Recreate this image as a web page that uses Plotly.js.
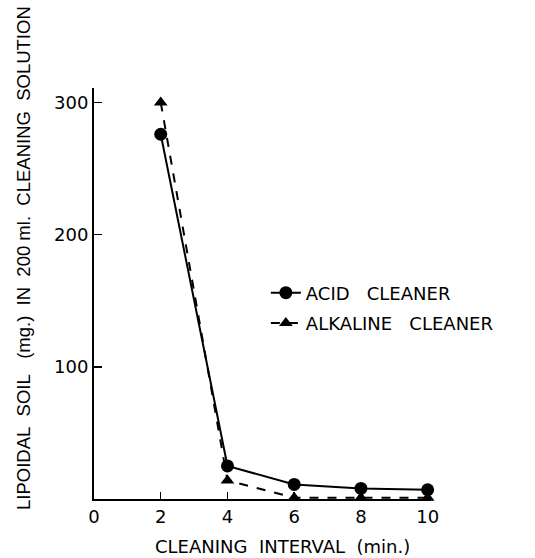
<!DOCTYPE html>
<html>
<head>
<meta charset="utf-8">
<script src="https://cdn.plot.ly/plotly-3.0.1.min.js"></script>
<style>html,body{margin:0;padding:0;background:#fff;}#chart{width:535px;height:558px;}</style>
</head>
<body>
<div id="chart"></div>
<script>
const intervals = [2, 4, 6, 8, 10];
const acidCleaner = [276, 25, 11, 8, 7];
const alkalineCleaner = [300, 14, 1, 1, 1];
const xTickVals = [0, 2, 4, 6, 8, 10];
const xTickText = ["0", "2", "4", "6", "8", "10"];
const yTickVals = [100, 200, 300];
const yTickText = ["100", "200", "300"];

const fontFam = "DejaVu Sans, Arial, sans-serif";

const traces = [
  {
    x: intervals, y: acidCleaner, name: "ACID&nbsp;&nbsp;&nbsp;CLEANER",
    type: "scatter", mode: "lines+markers", legendgroup: "a",
    line: {color: "#000", width: 2, dash: "solid"},
    marker: {symbol: "circle", size: 13, color: "#000"},
    cliponaxis: false
  },
  {
    x: intervals, y: alkalineCleaner, name: "ALKALINE&nbsp;&nbsp;&nbsp;CLEANER",
    type: "scatter", mode: "lines+markers", legendgroup: "b",
    line: {color: "#000", width: 2, dash: "dash"},
    marker: {symbol: "triangle-up", size: 12, color: "#000"},
    cliponaxis: false
  }
];

const layout = {
  width: 535, height: 558,
  margin: {l: 94, r: 104, t: 88, b: 59},
  paper_bgcolor: "#fff", plot_bgcolor: "#fff",
  font: {family: fontFam, color: "#000", size: 16},
  showlegend: true,
  legend: {
    x: 0.51, y: (499 - 308) / 411, xanchor: "left", yanchor: "middle",
    font: {family: fontFam, size: 18, color: "#000"},
    bgcolor: "rgba(0,0,0,0)", tracegroupgap: 4, traceorder: "grouped", itemwidth: 30
  },
  xaxis: {
    range: [0, 10.1], showline: true, linecolor: "#000", linewidth: 2,
    ticks: "inside", ticklen: 7, tickwidth: 1.5, tickcolor: "#000",
    tickmode: "array", tickvals: xTickVals, ticktext: xTickText,
    tickfont: {family: fontFam, size: 18, color: "#000"},
    showgrid: false, zeroline: false, mirror: false
  },
  yaxis: {
    range: [0, 311], showline: true, linecolor: "#000", linewidth: 2,
    ticks: "inside", ticklen: 8, tickwidth: 1.5, tickcolor: "#000",
    tickmode: "array", tickvals: yTickVals, ticktext: yTickText,
    tickfont: {family: fontFam, size: 18, color: "#000"},
    showgrid: false, zeroline: false
  },
  annotations: [
    {
      text: "CLEANING&nbsp;&nbsp;INTERVAL&nbsp;&nbsp;(min.)",
      xref: "paper", yref: "paper", x: (282 - 94) / 337, y: (499 - 546) / 411,
      xanchor: "center", yanchor: "middle", showarrow: false,
      font: {family: fontFam, size: 18, color: "#000"}
    },
    {
      text: "LIPOIDAL&nbsp;&nbsp;SOIL&nbsp;&nbsp;&nbsp;(mg.)&nbsp;&nbsp;IN&nbsp;&nbsp;200&nbsp;ml.&nbsp;&nbsp;CLEANING&nbsp;&nbsp;SOLUTION",
      xref: "paper", yref: "paper", x: (23 - 94) / 337, y: (499 - 258) / 411,
      xanchor: "center", yanchor: "middle", showarrow: false, textangle: -90,
      font: {family: "Liberation Sans, Arial, sans-serif", size: 18.5, color: "#000"}
    }
  ]
};

Plotly.newPlot("chart", traces, layout, {displayModeBar: false, staticPlot: true});
</script>
</body>
</html>
